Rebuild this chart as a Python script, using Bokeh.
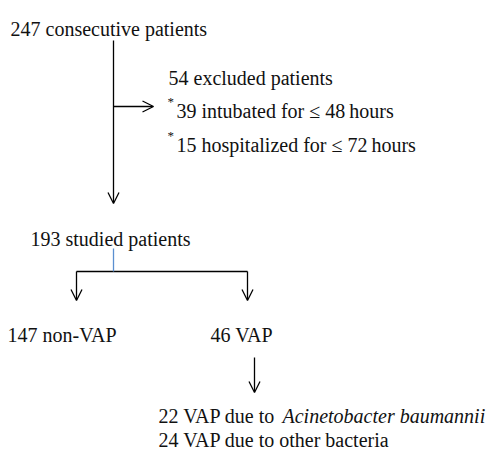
from bokeh.plotting import figure
from bokeh.models import Range1d, Arrow, OpenHead, ColumnDataSource
from bokeh.core.properties import value
from bokeh.embed import file_html
from bokeh.resources import INLINE

# ---- data ----
total_patients = 247
excluded_patients = 54
intubated_short = 39
hospitalized_short = 15
studied_patients = 193
non_vap = 147
vap = 46
vap_acinetobacter = 22
vap_other = 24

labels = [
    f"{total_patients} consecutive patients",
    f"{excluded_patients} excluded  patients",
    f"{intubated_short} intubated for \u2264 48\u2009hours",
    f"{hospitalized_short} hospitalized for \u2264 72\u2009hours",
    f"{studied_patients} studied patients",
    f"{non_vap} non-VAP",
    f"{vap} VAP",
    f"{vap_acinetobacter} VAP due to",
    f"{vap_other} VAP due to other bacteria",
]
italic_label = "Acinetobacter baumannii"

# ---- layout (image pixel coordinates) ----
lab_x = [10, 168, 176, 176, 30, 7, 210, 158, 158]
lab_y = [28, 77, 110, 144, 238, 334, 334, 415, 439]

FONT = value("'Liberation Serif', 'Times New Roman', serif")
FS = "20px"

p = figure(width=501, height=449, output_backend="svg", toolbar_location=None,
           x_range=Range1d(0, 501), y_range=Range1d(449, 0), min_border=0)
p.axis.visible = False
p.grid.visible = False
p.outline_line_color = None
p.background_fill_color = "white"
p.border_fill_color = "white"

src = ColumnDataSource(dict(x=lab_x, y=lab_y, t=labels))
p.text(x="x", y="y", text="t", source=src, text_font=FONT, text_font_size=FS,
       text_baseline="alphabetic", text_align="left", text_color="#111111")

# italic species name
p.text(x=[282], y=[415], text=[italic_label], text_font=FONT, text_font_size=FS,
       text_font_style="italic", text_baseline="alphabetic", text_align="left",
       text_color="#111111")

# superscript asterisks
p.text(x=[167, 167], y=[101, 135], text=["*", "*"], text_font=FONT,
       text_font_size="13px", text_baseline="alphabetic", text_align="left",
       text_color="#111111")

LW = 1.3
p.segment(x0=[76], y0=[271], x1=[247], y1=[271],
          line_color="black", line_width=LW)
p.segment(x0=[113], y0=[248], x1=[113], y1=[271], line_color="#5b8fd0",
          line_width=LW)

arrows = [
    (113, 40, 113, 203),
    (113, 106, 153, 106),
    (76, 271, 76, 300),
    (247, 271, 247, 300),
    (254, 357, 254, 392),
]
for xs, ys, xe, ye in arrows:
    p.add_layout(Arrow(end=OpenHead(size=11, line_width=LW, line_color="black"),
                       x_start=xs, y_start=ys, x_end=xe, y_end=ye,
                       line_color="black", line_width=LW))

open("out.html", "w").write(file_html(p, INLINE))
